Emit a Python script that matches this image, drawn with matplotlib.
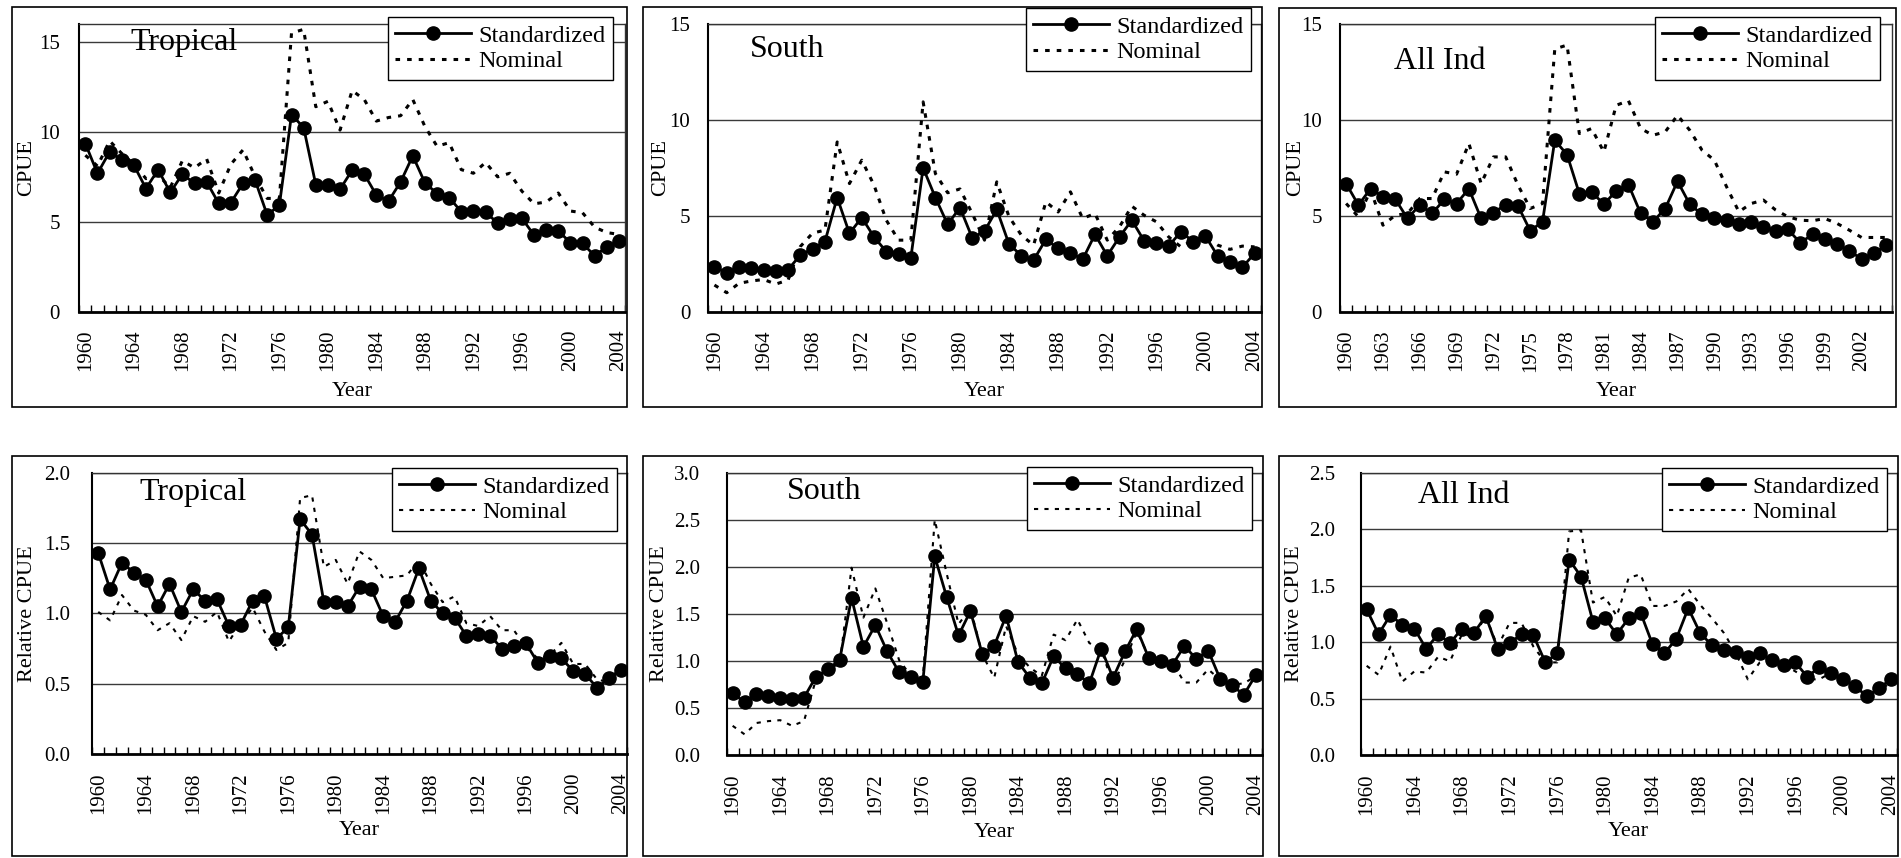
import numpy as np
import matplotlib
matplotlib.use('Agg')
import matplotlib.pyplot as plt
from matplotlib.patches import Rectangle
from matplotlib.lines import Line2D
from matplotlib.ticker import FormatStrFormatter

plt.rcParams['font.family'] = ['Liberation Serif', 'DejaVu Serif']

W, H = 1901, 858

years = np.arange(1960, 2005)

# CPUE by region (top row)
trop_std = [9.35, 7.69, 8.89, 8.46, 8.15, 6.85, 7.90, 6.63, 7.65, 7.13,
            7.22, 6.02, 6.07, 7.13, 7.31, 5.37, 5.93, 10.96, 10.24, 7.07,
            7.04, 6.81, 7.87, 7.65, 6.48, 6.15, 7.22, 8.67, 7.17, 6.57,
            6.35, 5.56, 5.61, 5.52, 4.94, 5.13, 5.19, 4.26, 4.57, 4.50,
            3.83, 3.80, 3.11, 3.61, 3.94]
trop_nom = [8.7, 8.1, 9.5, 8.8, 8.2, 7.4, 7.6, 6.9, 8.4, 8.0,
            8.5, 6.6, 8.2, 9.0, 7.5, 6.3, 6.3, 15.5, 15.7, 11.4,
            11.7, 10.1, 12.3, 11.8, 10.6, 10.8, 10.9, 11.8, 10.3, 9.2,
            9.4, 7.9, 7.7, 8.3, 7.5, 7.7, 6.7, 6.0, 6.1, 6.6,
            5.6, 5.5, 4.7, 4.4, 4.3]
south_std = [2.34, 2.03, 2.34, 2.29, 2.17, 2.14, 2.20, 2.95, 3.28, 3.65,
             5.95, 4.08, 4.91, 3.90, 3.13, 2.99, 2.81, 7.50, 5.95, 4.55,
             5.43, 3.85, 4.20, 5.33, 3.52, 2.93, 2.69, 3.77, 3.30, 3.07,
             2.73, 4.03, 2.92, 3.90, 4.77, 3.70, 3.56, 3.42, 4.17, 3.65,
             3.94, 2.90, 2.60, 2.31, 3.04]
south_nom = [1.39, 0.99, 1.48, 1.60, 1.68, 1.44, 1.65, 3.40, 4.10, 4.25,
             8.85, 6.68, 7.90, 6.60, 4.77, 3.73, 3.73, 10.94, 7.20, 6.20,
             6.40, 5.12, 3.73, 6.77, 4.95, 3.99, 3.47, 5.73, 5.20, 6.25,
             4.86, 5.12, 3.73, 4.43, 5.50, 5.03, 4.69, 3.90, 3.38, 3.73,
             3.90, 3.47, 3.25, 3.42, 3.38]
allind_std = [6.68, 5.56, 6.42, 5.99, 5.87, 4.86, 5.56, 5.12, 5.85, 5.64,
              6.41, 4.86, 5.17, 5.57, 5.52, 4.22, 4.69, 8.94, 8.19, 6.16,
              6.25, 5.60, 6.30, 6.63, 5.12, 4.69, 5.38, 6.80, 5.60, 5.07,
              4.86, 4.77, 4.55, 4.69, 4.43, 4.22, 4.29, 3.59, 4.03, 3.78,
              3.51, 3.18, 2.74, 3.04, 3.47]
allind_nom = [5.64, 4.95, 6.34, 4.51, 5.03, 5.12, 5.90, 5.90, 7.29, 7.17,
              8.77, 6.68, 8.07, 8.07, 6.60, 5.38, 5.64, 13.7, 13.9, 9.29,
              9.55, 8.33, 10.76, 11.0, 9.55, 9.20, 9.38, 10.24, 9.46, 8.42,
              7.90, 6.51, 5.21, 5.64, 5.82, 5.30, 4.95, 4.77, 4.74, 4.86,
              4.60, 4.25, 3.87, 3.87, 3.87]

# relative CPUE (bottom row)
rel_trop_std = [1.43, 1.17, 1.36, 1.29, 1.24, 1.05, 1.21, 1.01, 1.17, 1.09,
                1.10, 0.91, 0.92, 1.09, 1.12, 0.82, 0.90, 1.67, 1.56, 1.08,
                1.08, 1.05, 1.19, 1.17, 0.98, 0.94, 1.09, 1.32, 1.09, 1.00,
                0.97, 0.84, 0.85, 0.84, 0.75, 0.77, 0.79, 0.65, 0.70, 0.68,
                0.59, 0.57, 0.47, 0.54, 0.60]
rel_trop_nom = [1.01, 0.95, 1.13, 1.02, 0.99, 0.88, 0.93, 0.81, 0.98, 0.94,
                1.01, 0.80, 0.93, 1.04, 0.87, 0.74, 0.79, 1.82, 1.84, 1.33,
                1.38, 1.21, 1.44, 1.38, 1.25, 1.26, 1.27, 1.38, 1.21, 1.08,
                1.12, 0.93, 0.91, 0.98, 0.88, 0.88, 0.76, 0.68, 0.70, 0.79,
                0.64, 0.64, 0.53, 0.51, 0.52]
rel_south_std = [0.66, 0.56, 0.65, 0.63, 0.61, 0.60, 0.61, 0.83, 0.91, 1.01,
                 1.67, 1.15, 1.38, 1.10, 0.88, 0.83, 0.78, 2.11, 1.68, 1.27,
                 1.53, 1.07, 1.16, 1.48, 0.99, 0.82, 0.76, 1.05, 0.92, 0.86,
                 0.76, 1.13, 0.82, 1.10, 1.34, 1.03, 1.00, 0.96, 1.16, 1.02,
                 1.11, 0.81, 0.74, 0.64, 0.85]
rel_south_nom = [0.31, 0.22, 0.34, 0.36, 0.37, 0.31, 0.36, 0.80, 0.93, 0.96,
                 1.99, 1.46, 1.77, 1.40, 1.01, 0.84, 0.82, 2.50, 1.93, 1.39,
                 1.56, 1.07, 0.82, 1.37, 1.07, 0.93, 0.84, 1.28, 1.22, 1.44,
                 1.19, 1.12, 0.75, 1.01, 1.31, 1.05, 0.98, 0.98, 0.77, 0.77,
                 0.91, 0.80, 0.75, 0.76, 0.84]
rel_allind_std = [1.29, 1.07, 1.24, 1.15, 1.12, 0.94, 1.07, 0.99, 1.12, 1.08,
                  1.23, 0.94, 0.99, 1.07, 1.06, 0.82, 0.90, 1.73, 1.58, 1.18,
                  1.21, 1.07, 1.21, 1.26, 0.98, 0.90, 1.03, 1.30, 1.08, 0.97,
                  0.93, 0.91, 0.87, 0.90, 0.84, 0.80, 0.82, 0.69, 0.78, 0.73,
                  0.67, 0.61, 0.52, 0.59, 0.67]
rel_allind_nom = [0.79, 0.71, 0.96, 0.65, 0.74, 0.73, 0.87, 0.83, 1.07, 1.05,
                  1.23, 0.96, 1.17, 1.17, 0.96, 0.82, 0.82, 1.98, 1.99, 1.35,
                  1.40, 1.23, 1.57, 1.60, 1.32, 1.32, 1.36, 1.47, 1.33, 1.21,
                  1.08, 0.90, 0.67, 0.82, 0.86, 0.80, 0.74, 0.67, 0.67, 0.73,
                  0.67, 0.61, 0.52, 0.57, 0.64]

fig = plt.figure(figsize=(W / 100, H / 100), dpi=100)
fig.patch.set_facecolor('white')


def fig_box(x0, y0, x1, y1):
    # pixel box (top-left origin) -> figure fraction rect
    return [x0 / W, 1 - y1 / H, (x1 - x0) / W, (y1 - y0) / H]


def draw_panel(frame, box, std, nom, title, tpos, ytop, ystep, yfmt, ypad,
               ylabel, ylx, xly, labstep, legend_at, dot_lw, dot_dash):
    # chart border
    fx = fig_box(*frame)
    fig.patches.append(Rectangle((fx[0], fx[1]), fx[2], fx[3],
                                 transform=fig.transFigure, fill=False,
                                 edgecolor='black', linewidth=1.2))

    ax = fig.add_axes(fig_box(*box))
    ax.plot(years, nom, color='black', linewidth=dot_lw,
            linestyle=(0, dot_dash), zorder=2)
    ax.plot(years, std, color='black', linewidth=2, marker='o',
            markersize=9.5, zorder=3)

    ax.set_xlim(years[0] - 0.5, years[-1] + 0.5)
    ax.set_ylim(0, ytop)
    ax.set_yticks(np.arange(0, ytop + 1e-9, ystep))
    ax.yaxis.set_major_formatter(FormatStrFormatter(yfmt))
    ax.yaxis.grid(True, color='#3a3a3a', linewidth=1)
    ax.set_axisbelow(True)

    lab_years = years[::labstep]
    ax.set_xticks(lab_years)
    ax.set_xticklabels([str(y) for y in lab_years], rotation=90)
    ax.set_xticks(np.append(years - 0.5, years[-1] + 0.5), minor=True)
    ax.tick_params(axis='x', which='major', length=0, pad=13, labelsize=15)
    ax.tick_params(axis='x', which='minor', direction='in', length=5,
                   width=1, color='black')
    ax.tick_params(axis='y', length=0, pad=ypad, labelsize=15)

    for side in ['top', 'right']:
        ax.spines[side].set_linewidth(1)
        ax.spines[side].set_color('#333333')
    ax.spines['left'].set_linewidth(1.5)
    ax.spines['bottom'].set_linewidth(2)

    ax.set_ylabel(ylabel, fontsize=16, va='center')
    ax.yaxis.set_label_coords(ylx, 0.5)
    ax.set_xlabel('Year', fontsize=16, va='center')
    ax.xaxis.set_label_coords(0.5, xly)

    ax.text(tpos[0], tpos[1], title, transform=ax.transAxes, fontsize=23,
            ha='left', va='center')

    h_std = Line2D([], [], color='black', linewidth=2, marker='o',
                   markersize=9.5)
    h_nom = Line2D([], [], color='black', linewidth=dot_lw,
                   linestyle=(0, dot_dash))
    leg = fig.legend([h_std, h_nom], ['Standardized', 'Nominal'],
                     loc='upper right',
                     bbox_to_anchor=(legend_at[0] / W, 1 - legend_at[1] / H),
                     bbox_transform=fig.transFigure, fontsize=17.5,
                     frameon=True, fancybox=False, framealpha=1,
                     edgecolor='black', handlelength=3.1, handletextpad=0.3,
                     borderpad=0.32, labelspacing=0.15, borderaxespad=0)
    leg.get_frame().set_linewidth(1)
    return ax


top_dots = (2.2, (1.5, 2.3))
bot_dots = (1.5, (2, 3))

draw_panel((12, 7, 627, 407), (79.3, 24, 625, 311.7), trop_std, trop_nom,
           'Tropical', (0.093, 0.934), 16, 5, '%d', 14, 'CPUE', -0.097,
           -0.276, 4, (613, 17), *top_dots)
draw_panel((643, 7, 1262, 407), (708.3, 24, 1260.7, 311.7), south_std,
           south_nom, 'South', (0.075, 0.913), 15, 5, '%d', 13, 'CPUE',
           -0.086, -0.276, 4, (1251, 8), *top_dots)
draw_panel((1279, 8, 1896, 407), (1340, 24, 1892.3, 311.7), allind_std,
           allind_nom, 'All Ind', (0.098, 0.868), 15, 5, '%d', 13, 'CPUE',
           -0.081, -0.276, 3, (1880, 17), *top_dots)

draw_panel((12, 456, 627, 856), (92.3, 472.7, 626.7, 754), rel_trop_std,
           rel_trop_nom, 'Tropical', (0.089, 0.931), 2.0, 0.5, '%.1f', 16,
           'Relative CPUE', -0.121, -0.272, 4, (617, 468), *bot_dots)
draw_panel((643, 456, 1263, 856), (726.7, 472.7, 1261.7, 755), rel_south_std,
           rel_south_nom, 'South', (0.113, 0.932), 3.0, 0.5, '%.1f', 19,
           'Relative CPUE', -0.125, -0.275, 4, (1252, 467), *bot_dots)
draw_panel((1279, 456, 1898, 856), (1360.7, 472.7, 1896.7, 755),
           rel_allind_std, rel_allind_nom, 'All Ind', (0.107, 0.92), 2.5,
           0.5, '%.1f', 18.5, 'Relative CPUE', -0.124, -0.27, 4, (1887, 468),
           *bot_dots)

fig.savefig('out.png', dpi=100, facecolor='white')
